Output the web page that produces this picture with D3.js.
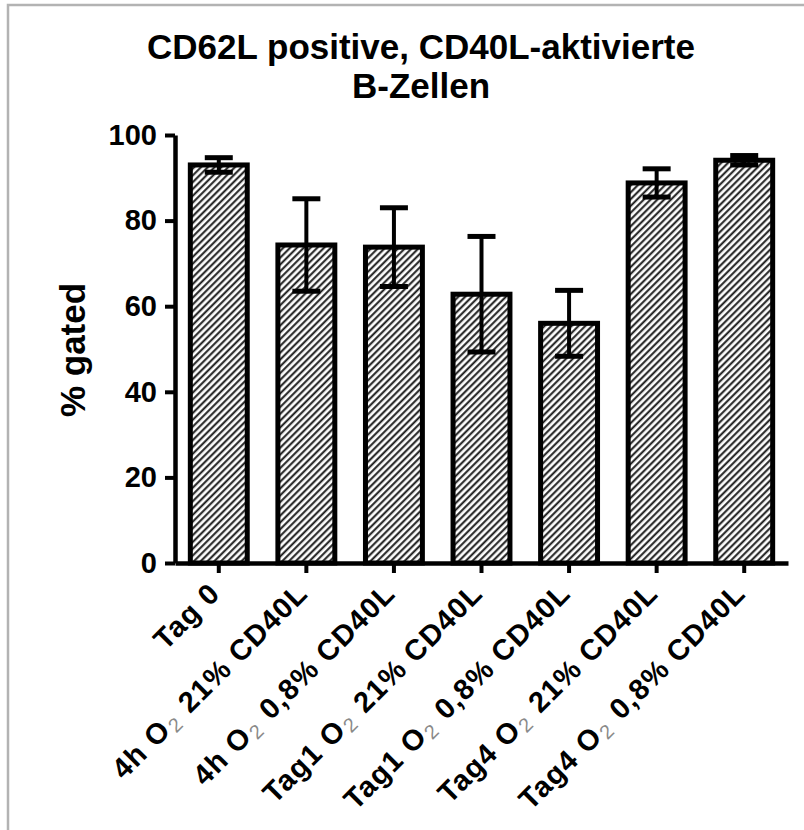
<!DOCTYPE html>
<html>
<head>
<meta charset="utf-8">
<script src="https://cdn.jsdelivr.net/npm/d3@7"></script>
<style>
  body { margin: 0; background: #fff; }
  svg { display: block; }
</style>
</head>
<body>
<svg id="chart" width="804" height="830"></svg>
<script>
// Groups on the x axis ("O2" gets a subscript 2 when drawn)
const categories = [
  "Tag 0",
  "4h O2 21% CD40L",
  "4h O2 0,8% CD40L",
  "Tag1 O2 21% CD40L",
  "Tag1 O2 0,8% CD40L",
  "Tag4 O2 21% CD40L",
  "Tag4 O2 0,8% CD40L"
];
// Mean % gated per group
const means = [93.0, 74.3, 73.8, 62.8, 56.0, 88.8, 94.1];
// Error (± half-length of the error bar)
const errors = [1.7, 10.8, 9.2, 13.5, 7.7, 3.3, 1.1];
// y-axis ticks
const yTicks = [0, 20, 40, 60, 80, 100];

const titleLines = ["CD62L positive, CD40L-aktivierte", "B-Zellen"];
const yLabel = "% gated";

const FONT = "'Liberation Sans', Arial, Helvetica, sans-serif";
const svg = d3.select("#chart");

const x = d3.scaleBand()
  .domain(categories)
  .range([175, 788])
  .paddingInner(0.35)
  .paddingOuter(0.175);

const y = d3.scaleLinear().domain([0, 100]).range([563, 135]);

// diagonal hatch fill
const defs = svg.append("defs");
const HP = 4.8;
const pat = defs.append("pattern")
  .attr("id", "hatch")
  .attr("patternUnits", "userSpaceOnUse")
  .attr("width", HP)
  .attr("height", HP)
  .attr("patternTransform", "rotate(45)");
pat.append("rect").attr("width", HP).attr("height", HP).attr("fill", "#fff");
pat.append("line")
  .attr("x1", 1.2).attr("y1", 0).attr("x2", 1.2).attr("y2", HP)
  .attr("stroke", "#1a1a1a").attr("stroke-width", 2);

// outer frame
svg.append("rect")
  .attr("x", 8).attr("y", 5)
  .attr("width", 830).attr("height", 860)
  .attr("fill", "none")
  .attr("stroke", "#b3b3b3")
  .attr("stroke-width", 2.5);

// title
svg.append("text")
  .attr("x", 421)
  .attr("text-anchor", "middle")
  .attr("font-family", FONT)
  .attr("font-weight", "bold")
  .attr("font-size", 35)
  .attr("fill", "#000")
  .selectAll("tspan")
  .data(titleLines)
  .join("tspan")
  .attr("x", 421)
  .attr("y", (d, i) => 59 + i * 39)
  .text(d => d);

// bars
const data = categories.map((c, i) => ({ c, m: means[i], e: errors[i] }));

svg.append("g")
  .selectAll("rect")
  .data(data)
  .join("rect")
  .attr("x", d => x(d.c))
  .attr("width", x.bandwidth())
  .attr("y", d => y(d.m))
  .attr("height", d => y(0) - y(d.m))
  .attr("fill", "url(#hatch)")
  .attr("stroke", "#000")
  .attr("stroke-width", 5);

// error bars
const eb = svg.append("g").attr("stroke", "#000");
const cx = d => x(d.c) + x.bandwidth() / 2;
eb.selectAll("line.stem")
  .data(data)
  .join("line")
  .attr("class", "stem")
  .attr("x1", cx).attr("x2", cx)
  .attr("y1", d => y(d.m + d.e))
  .attr("y2", d => y(d.m - d.e))
  .attr("stroke-width", 4);
eb.selectAll("line.capTop")
  .data(data)
  .join("line")
  .attr("class", "capTop")
  .attr("x1", d => cx(d) - 14).attr("x2", d => cx(d) + 14)
  .attr("y1", d => y(d.m + d.e)).attr("y2", d => y(d.m + d.e))
  .attr("stroke-width", 5);
eb.selectAll("line.capBot")
  .data(data)
  .join("line")
  .attr("class", "capBot")
  .attr("x1", d => cx(d) - 14).attr("x2", d => cx(d) + 14)
  .attr("y1", d => y(d.m - d.e)).attr("y2", d => y(d.m - d.e))
  .attr("stroke-width", 5);

// y axis
const yAxis = svg.append("g")
  .attr("transform", "translate(175,0)")
  .call(d3.axisLeft(y).tickValues(yTicks).tickSize(10).tickSizeOuter(0).tickPadding(8));
yAxis.select(".domain").attr("stroke", "#000").attr("stroke-width", 4.5);
yAxis.selectAll(".tick line").attr("stroke", "#000").attr("stroke-width", 4);
yAxis.selectAll(".tick text")
  .attr("font-family", FONT)
  .attr("font-weight", "bold")
  .attr("font-size", 29)
  .attr("fill", "#000");

// x axis
const xAxis = svg.append("g")
  .attr("transform", "translate(0,563)")
  .call(d3.axisBottom(x).tickSize(10).tickSizeOuter(0).tickFormat(""));
xAxis.select(".domain").attr("stroke", "#000").attr("stroke-width", 4.5);
xAxis.selectAll(".tick line").attr("stroke", "#000").attr("stroke-width", 4);

// rotated x tick labels with O₂ subscript
xAxis.selectAll(".tick").each(function (d) {
  const t = d3.select(this).append("text")
    .attr("transform", "translate(3,32) rotate(-45)")
    .attr("text-anchor", "end")
    .attr("font-family", FONT)
    .attr("font-weight", "bold")
    .attr("font-size", 29)
    .attr("letter-spacing", 1.2)
    .attr("fill", "#000");
  const parts = d.split("O2");
  if (parts.length === 1) {
    t.text(d);
  } else {
    t.append("tspan").text(parts[0] + "O");
    t.append("tspan").text("2")
      .attr("font-size", 20)
      .attr("font-weight", "normal")
      .attr("fill", "#8a8a8a")
      .attr("dx", 1)
      .attr("dy", 4);
    t.append("tspan").text(parts[1]).attr("dx", 2).attr("dy", -4);
  }
});

// y axis title
svg.append("text")
  .attr("transform", "translate(85,350) rotate(-90)")
  .attr("text-anchor", "middle")
  .attr("font-family", FONT)
  .attr("font-weight", "bold")
  .attr("font-size", 35)
  .attr("fill", "#000")
  .text(yLabel);
</script>
</body>
</html>
